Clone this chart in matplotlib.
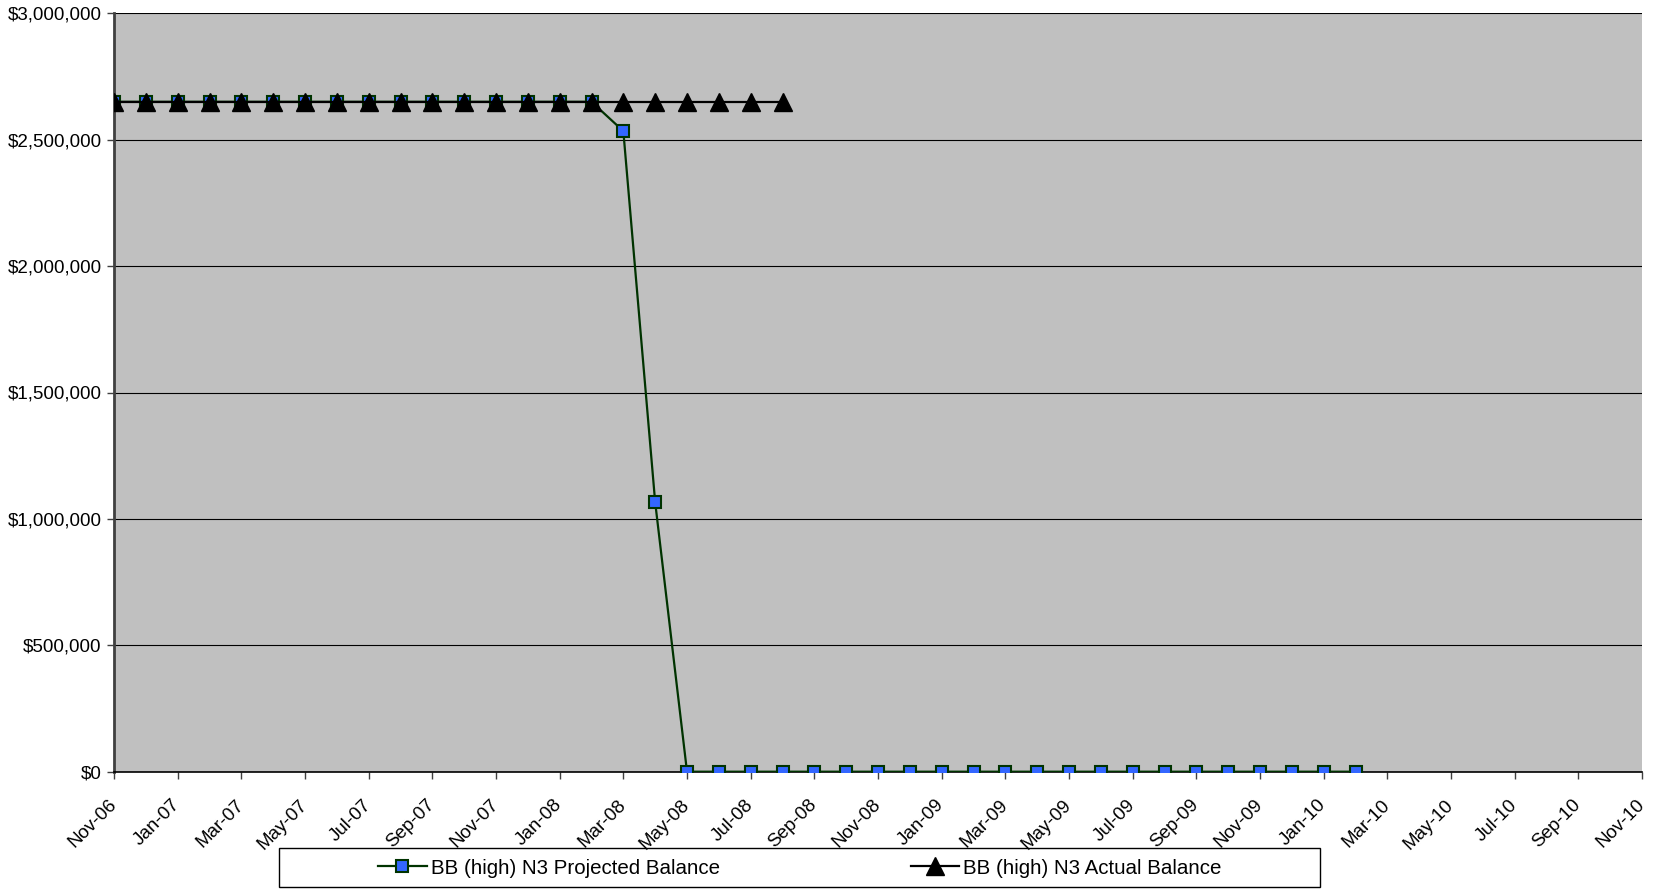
import matplotlib
matplotlib.use("Agg")
import matplotlib.pyplot as plt
from matplotlib.patches import Rectangle
from matplotlib.ticker import FuncFormatter, MultipleLocator

plt.rcParams["font.family"] = ["Liberation Sans", "DejaVu Sans"]

# Month labels, Nov-06 .. Nov-10
months = [
    "Nov-06", "Dec-06", "Jan-07", "Feb-07", "Mar-07", "Apr-07", "May-07", "Jun-07",
    "Jul-07", "Aug-07", "Sep-07", "Oct-07", "Nov-07", "Dec-07", "Jan-08", "Feb-08",
    "Mar-08", "Apr-08", "May-08", "Jun-08", "Jul-08", "Aug-08", "Sep-08", "Oct-08",
    "Nov-08", "Dec-08", "Jan-09", "Feb-09", "Mar-09", "Apr-09", "May-09", "Jun-09",
    "Jul-09", "Aug-09", "Sep-09", "Oct-09", "Nov-09", "Dec-09", "Jan-10", "Feb-10",
    "Mar-10", "Apr-10", "May-10", "Jun-10", "Jul-10", "Aug-10", "Sep-10", "Oct-10",
    "Nov-10",
]

projected = [
    2650000, 2650000, 2650000, 2650000, 2650000, 2650000, 2650000, 2650000,
    2650000, 2650000, 2650000, 2650000, 2650000, 2650000, 2650000, 2650000,
    2534000, 1066000, 0, 0, 0, 0, 0, 0,
    0, 0, 0, 0, 0, 0, 0, 0,
    0, 0, 0, 0, 0, 0, 0, 0,
]
actual = [
    2650000, 2650000, 2650000, 2650000, 2650000, 2650000, 2650000, 2650000,
    2650000, 2650000, 2650000, 2650000, 2650000, 2650000, 2650000, 2650000,
    2650000, 2650000, 2650000, 2650000, 2650000, 2650000,
]

W, H = 1675, 893
fig = plt.figure(figsize=(W / 100, H / 100), dpi=100)
ax = fig.add_axes([114 / W, 121.3 / H, (1642 - 114) / W, (771.7 - 13.3) / H])
ax.set_facecolor("#C0C0C0")

ax.plot(range(len(projected)), projected, color="#003300", linewidth=1.6,
        marker="s", markersize=8, markerfacecolor="#3366FF",
        markeredgecolor="#003300", markeredgewidth=1.5,
        label="BB (high) N3 Projected Balance", zorder=3)
ax.plot(range(len(actual)), actual, color="black", linewidth=1.6,
        marker="^", markersize=13, markerfacecolor="black",
        markeredgecolor="black", label="BB (high) N3 Actual Balance", zorder=4)

ax.set_xlim(0, len(months) - 1)
ax.set_ylim(0, 3000000)
ax.yaxis.set_major_locator(MultipleLocator(500000))
ax.yaxis.set_major_formatter(FuncFormatter(lambda v, p: f"${v:,.0f}"))
ax.grid(axis="y", color="black", linewidth=0.8)
ax.set_axisbelow(True)

ax.set_xticks(range(0, len(months), 2))
ax.set_xticklabels(months[::2], rotation=45, ha="right", va="center",
                   rotation_mode="anchor")

ax.tick_params(axis="both", direction="out", length=5, width=1, color="#404040",
               labelsize=13.5, pad=4)
ax.tick_params(axis="x", pad=17)

for side in ["top", "right"]:
    ax.spines[side].set_visible(False)
ax.spines["left"].set_color("#404040")
ax.spines["left"].set_linewidth(2)
ax.spines["bottom"].set_color("black")
ax.spines["bottom"].set_linewidth(1.2)

# Legend frame drawn separately (Excel-style wide box)
fig.patches.append(Rectangle((279 / W, 6 / H), 1041 / W, 39 / H, transform=fig.transFigure,
                             facecolor="white", edgecolor="black", linewidth=1, zorder=-1))
leg = fig.legend(loc="center", ncol=2, fontsize=14.8, frameon=False,
                 bbox_to_anchor=(800 / W, 25 / H),
                 handlelength=2.35, handletextpad=0.2, columnspacing=9.3,
                 borderaxespad=0)

fig.savefig("out.png", dpi=100)
